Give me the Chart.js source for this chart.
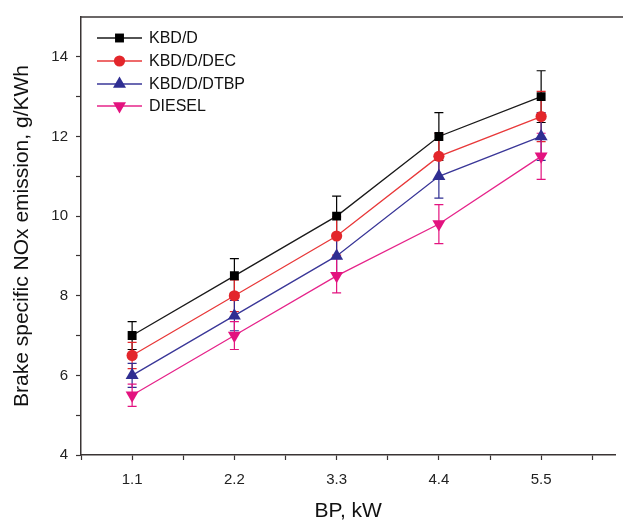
<!DOCTYPE html>
<html>
<head>
<meta charset="utf-8">
<script src="https://cdn.jsdelivr.net/npm/chart.js@4.4.1/dist/chart.umd.min.js"></script>
<style>
  html, body { margin: 0; padding: 0; background: #fff; }
  #wrap { width: 623px; height: 524px; }
</style>
</head>
<body>
<div id="wrap"><canvas id="c" width="623" height="524"></canvas></div>
<script>
// ---- data ----
const bp = [1.1, 2.2, 3.3, 4.4, 5.5];
const xTickLabels = [1.1, 2.2, 3.3, 4.4, 5.5];
const xMinorTicks = [0.55, 1.65, 2.75, 3.85, 4.95, 6.05];
const yTickLabels = [4, 6, 8, 10, 12, 14];
const seriesNames = ['KBD/D', 'KBD/D/DEC', 'KBD/D/DTBP', 'DIESEL'];
const kbdD      = [7.0, 8.5, 10.0, 12.0, 13.0];
const kbdDDec   = [6.5, 8.0, 9.5, 11.5, 12.5];
const kbdDDtbp  = [6.0, 7.5, 9.0, 11.0, 12.0];
const diesel    = [5.5, 7.0, 8.5, 9.8, 11.5];
const errKbdD     = [0.35, 0.43, 0.50, 0.60, 0.65];
const errKbdDDec  = [0.33, 0.40, 0.48, 0.58, 0.63];
const errKbdDDtbp = [0.30, 0.38, 0.45, 0.55, 0.60];
const errDiesel   = [0.28, 0.35, 0.43, 0.49, 0.58];

const colors = ['#000000', '#e3262b', '#2f2e92', '#e3137f'];
const lineColors = ['#1a1a1a', '#e8393a', '#3a3798', '#e6248a'];
const styles = [
  {pointStyle: 'rect', radius: 6.3, rotation: 0},
  {pointStyle: 'circle', radius: 5.6, rotation: 0},
  {pointStyle: 'triangle', radius: 7.5, rotation: 0},
  {pointStyle: 'triangle', radius: 7.5, rotation: 180}
];
const values = [kbdD, kbdDDec, kbdDDtbp, diesel];
const errors = [errKbdD, errKbdDDec, errKbdDDtbp, errDiesel];

const FONT = '"Liberation Sans", Arial, Helvetica, sans-serif';
const AXIS_COLOR = '#3a3434';

const datasets = seriesNames.map((name, i) => ({
  label: name,
  data: bp.map((x, j) => ({x: x, y: values[i][j]})),
  errors: errors[i],
  borderColor: lineColors[i],
  backgroundColor: colors[i],
  pointBackgroundColor: colors[i],
  pointBorderColor: colors[i],
  pointBorderWidth: 0,
  pointStyle: styles[i].pointStyle,
  pointRadius: styles[i].radius,
  pointRotation: styles[i].rotation,
  borderWidth: 1.3,
  tension: 0,
  fill: false
}));

const errorBars = {
  id: 'errorBars',
  beforeDatasetsDraw(chart) {
    const ctx = chart.ctx;
    const xs = chart.scales.x, ys = chart.scales.y;
    ctx.save();
    chart.data.datasets.forEach((ds, i) => {
      ctx.strokeStyle = colors[i];
      ctx.lineWidth = 1.2;
      ds.data.forEach((p, j) => {
        const e = ds.errors[j];
        const px = xs.getPixelForValue(p.x);
        const yt = ys.getPixelForValue(p.y + e);
        const yb = ys.getPixelForValue(p.y - e);
        ctx.beginPath();
        ctx.moveTo(px, yt); ctx.lineTo(px, yb);
        ctx.moveTo(px - 4.5, yt); ctx.lineTo(px + 4.5, yt);
        ctx.moveTo(px - 4.5, yb); ctx.lineTo(px + 4.5, yb);
        ctx.stroke();
      });
    });
    ctx.restore();
  }
};

const frame = {
  id: 'frame',
  afterDraw(chart) {
    const ctx = chart.ctx;
    const a = chart.chartArea;
    ctx.save();
    ctx.strokeStyle = AXIS_COLOR;
    ctx.lineWidth = 1.5;
    ctx.beginPath();
    ctx.moveTo(a.left, a.top);
    ctx.lineTo(chart.width, a.top);
    ctx.stroke();

    // legend inside plot
    const x0 = 97, x1 = 142, mx = 119.5, tx = 149;
    const ys0 = [38, 61, 84, 106];
    ctx.font = '16px ' + FONT;
    ctx.textBaseline = 'middle';
    chart.data.datasets.forEach((ds, i) => {
      const y = ys0[i];
      ctx.strokeStyle = lineColors[i];
      ctx.lineWidth = 1.3;
      ctx.beginPath(); ctx.moveTo(x0, y); ctx.lineTo(x1, y); ctx.stroke();
      ctx.fillStyle = colors[i];
      ctx.strokeStyle = colors[i];
      Chart.helpers.drawPoint(ctx, {
        pointStyle: styles[i].pointStyle,
        radius: styles[i].radius,
        rotation: styles[i].rotation,
        borderWidth: 0
      }, mx, y);
      ctx.fillStyle = '#111';
      ctx.fillText(ds.label, tx, y + 1);
    });
    ctx.restore();
  }
};

new Chart(document.getElementById('c'), {
  type: 'line',
  data: { datasets: datasets },
  options: {
    responsive: false,
    animation: false,
    devicePixelRatio: 1,
    layout: { padding: { top: 14, right: 0, left: 0, bottom: 0 } },
    plugins: { legend: { display: false }, tooltip: { enabled: false } },
    scales: {
      x: {
        type: 'linear',
        min: 0.55,
        max: 6.3,
        afterBuildTicks(scale) {
          const all = xMinorTicks.concat(xTickLabels).sort((a, b) => a - b);
          scale.ticks = all.map(v => ({value: v}));
        },
        afterFit(scale) { scale.height = 69; },
        ticks: {
          autoSkip: false,
          maxRotation: 0,
          padding: 11,
          color: '#222',
          font: { family: FONT, size: 15 },
          callback: (v) => xTickLabels.some(t => Math.abs(t - v) < 1e-6) ? v.toFixed(1) : ''
        },
        grid: { drawOnChartArea: false, drawTicks: true, tickLength: 5, color: AXIS_COLOR, tickWidth: 1.2 },
        border: { display: true, color: AXIS_COLOR, width: 1.5 },
        title: { display: true, text: 'BP, kW', color: '#111', font: { family: FONT, size: 21 }, padding: { top: 8, bottom: 0 } }
      },
      y: {
        type: 'linear',
        min: 4,
        max: 15,
        afterBuildTicks(scale) {
          const t = [];
          for (let v = 4; v <= 14; v += 1) t.push({value: v});
          scale.ticks = t;
        },
        afterFit(scale) { scale.width = 81; },
        ticks: {
          autoSkip: false,
          padding: 8,
          color: '#222',
          font: { family: FONT, size: 15 },
          callback: (v) => yTickLabels.includes(v) ? String(v) : ''
        },
        grid: { drawOnChartArea: false, drawTicks: true, tickLength: 5, color: AXIS_COLOR, tickWidth: 1.2 },
        border: { display: true, color: AXIS_COLOR, width: 1.5 },
        title: { display: true, text: 'Brake specific NOx emission, g/KWh', color: '#111', font: { family: FONT, size: 21 }, padding: { top: 10, bottom: 10 } }
      }
    }
  },
  plugins: [errorBars, frame]
});
</script>
</body>
</html>
